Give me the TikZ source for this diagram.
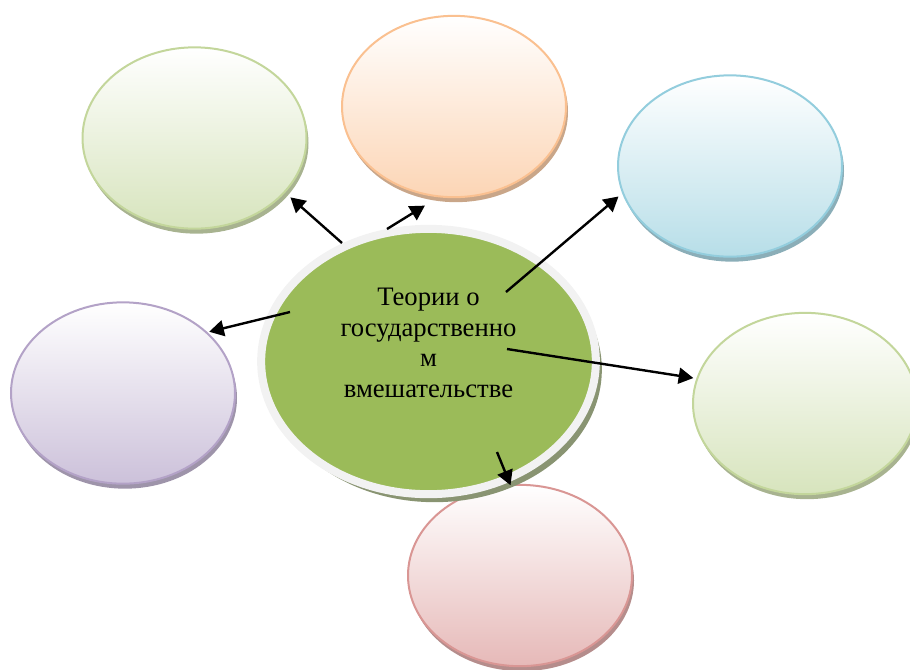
\documentclass[tikz,border=0pt]{standalone}
\usepackage{fontspec}
\setmainfont{Liberation Serif}
\usetikzlibrary{arrows.meta,shapes.geometric,shadows}
\definecolor{mCore}{HTML}{9BBB59}
\definecolor{mRing}{HTML}{F2F2F2}
\definecolor{mGreenLn}{HTML}{C3D69B}
\definecolor{mGreenBg}{HTML}{D7E4BD}
\definecolor{mOrangeLn}{HTML}{FAC090}
\definecolor{mOrangeBg}{HTML}{FCD5B5}
\definecolor{mBlueLn}{HTML}{93CDDD}
\definecolor{mBlueBg}{HTML}{B7DEE8}
\definecolor{mPurpleLn}{HTML}{B3A2C7}
\definecolor{mPurpleBg}{HTML}{CCC1DA}
\definecolor{mRedLn}{HTML}{D99694}
\definecolor{mRedBg}{HTML}{E6B9B8}
\tikzset{
  bub/.style ={ellipse,draw=m#1Ln,line width=1.5pt,top color=white,bottom color=m#1Bg,
               minimum width=168pt,minimum height=136pt,outer sep=0pt,
               drop shadow={shadow xshift=1.5pt,shadow yshift=-3.75pt,opacity=1,fill=m#1Ln!60!gray}},
  core/.style ={ellipse,draw=mRing,line width=6pt,fill=mCore,minimum width=251pt,minimum height=199pt,outer sep=0pt,
               drop shadow={shadow xshift=4.5pt,shadow yshift=-6pt,opacity=1,fill=mCore!35!gray}},
  rel/.style  ={-{Triangle[length=11pt,width=12pt]},line width=1.8pt,black},
}
\begin{document}
\begin{tikzpicture}[x=0.75pt,y=-0.75pt]
  \useasboundingbox (0,0) rectangle (910,669);
  \node[bub=Green]  (t1) at (194.5,138) {};
  \node[bub=Orange] (t2) at (454,106.5) {};
  \node[bub=Blue]   (t3) at (730,166) {};
  \node[bub=Purple] (t4) at (123,393) {};
  \node[bub=Green]  (t5) at (805,403.5) {};
  \node[bub=Red]    (t6) at (520,575.5) {};
  \node[core] (gov) at (428.5,361.5) {};
  \node[align=center,inner sep=0pt,font=\fontsize{20}{23}\selectfont] (govText) at (428.5,343)
        {Теории о\\государственно\\м\\вмешательстве};
  % arrow starts
  \coordinate (s1) at (342,243);
  \coordinate (s2) at (387,229);
  \coordinate (s3) at (506,292);
  \coordinate (s4) at (290,312);
  \coordinate (s5) at (507,349);
  \coordinate (s6) at (497,452);
  \draw[rel,shorten >=6pt]   (s1) -- (t1.-31.9);
  \draw[rel,shorten >=13.1pt] (s2) -- (t2.-99.4);
  \draw[rel,shorten >=4.4pt] (s3) -- (t3.194.7);
  \draw[rel,shorten >=2.2pt] (s4) -- (t4.36.8);
  \draw[rel,shorten >=3pt]   (s5) -- (t5.167.4);
  \draw[rel]                 (s6) -- (t6.96.2);
\end{tikzpicture}
\end{document}
